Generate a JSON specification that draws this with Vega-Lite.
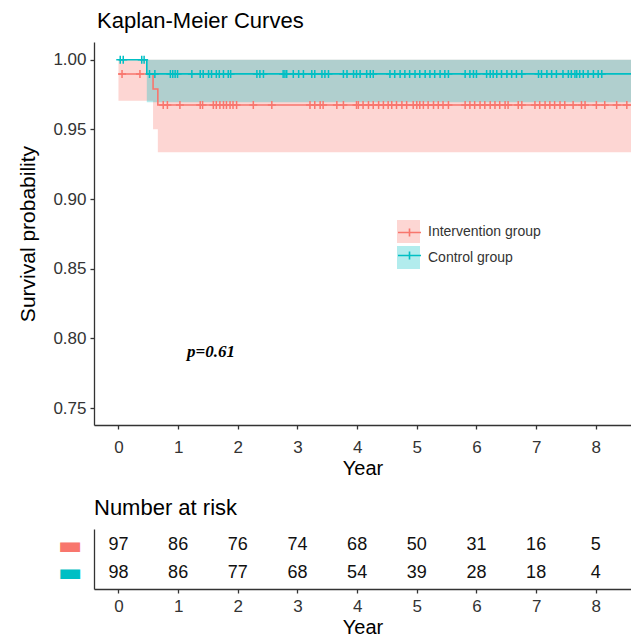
{
  "$schema": "https://vega.github.io/schema/vega-lite/v6.json",
  "padding": {"left": 17, "top": 10, "right": 0, "bottom": 0},
  "background": "white",
  "config": {
    "font": "Liberation Sans",
    "view": {"stroke": null},
    "axis": {
      "grid": false,
      "domainColor": "#333333",
      "tickColor": "#333333",
      "labelColor": "#333333",
      "titleColor": "#000000",
      "labelFontSize": 17,
      "titleFontSize": 20,
      "titleFontWeight": "normal",
      "domainWidth": 1.3,
      "tickWidth": 1.3,
      "tickSize": 4
    }
  },
  "datasets": {
    "km": [
      {"strata": "Intervention group", "t": 0, "s": 0.9897},
      {"strata": "Intervention group", "t": 0.58, "s": 0.979},
      {"strata": "Intervention group", "t": 0.66, "s": 0.9675},
      {"strata": "Intervention group", "t": 8.7, "s": 0.9675},
      {"strata": "Control group", "t": 0, "s": 1.0},
      {"strata": "Control group", "t": 0.475, "s": 0.9898},
      {"strata": "Control group", "t": 8.7, "s": 0.9898}
    ],
    "ci": [
      {"group": "Intervention group", "t": 0, "lo": 0.9706, "hi": 1.0},
      {"group": "Intervention group", "t": 0.58, "lo": 0.950, "hi": 1.0},
      {"group": "Intervention group", "t": 0.66, "lo": 0.9335, "hi": 1.0},
      {"group": "Intervention group", "t": 8.7, "lo": 0.9335, "hi": 1.0},
      {"group": "Control group", "t": 0.475, "lo": 0.9694, "hi": 1.0},
      {"group": "Control group", "t": 8.7, "lo": 0.9694, "hi": 1.0}
    ],
    "cens": [
      {"strata": "Control group", "t": 0.03, "s": 1.0},
      {"strata": "Control group", "t": 0.08, "s": 1.0},
      {"strata": "Control group", "t": 0.39, "s": 1.0},
      {"strata": "Control group", "t": 0.43, "s": 1.0},
      {"strata": "Control group", "t": 0.52, "s": 0.9898},
      {"strata": "Control group", "t": 0.61, "s": 0.9898},
      {"strata": "Control group", "t": 0.87, "s": 0.9898},
      {"strata": "Control group", "t": 0.91, "s": 0.9898},
      {"strata": "Control group", "t": 0.95, "s": 0.9898},
      {"strata": "Control group", "t": 0.99, "s": 0.9898},
      {"strata": "Control group", "t": 1.23, "s": 0.9898},
      {"strata": "Control group", "t": 1.37, "s": 0.9898},
      {"strata": "Control group", "t": 1.42, "s": 0.9898},
      {"strata": "Control group", "t": 1.51, "s": 0.9898},
      {"strata": "Control group", "t": 1.56, "s": 0.9898},
      {"strata": "Control group", "t": 1.64, "s": 0.9898},
      {"strata": "Control group", "t": 1.69, "s": 0.9898},
      {"strata": "Control group", "t": 1.76, "s": 0.9898},
      {"strata": "Control group", "t": 1.84, "s": 0.9898},
      {"strata": "Control group", "t": 1.88, "s": 0.9898},
      {"strata": "Control group", "t": 2.32, "s": 0.9898},
      {"strata": "Control group", "t": 2.37, "s": 0.9898},
      {"strata": "Control group", "t": 2.43, "s": 0.9898},
      {"strata": "Control group", "t": 2.76, "s": 0.9898},
      {"strata": "Control group", "t": 2.79, "s": 0.9898},
      {"strata": "Control group", "t": 2.82, "s": 0.9898},
      {"strata": "Control group", "t": 2.93, "s": 0.9898},
      {"strata": "Control group", "t": 3.02, "s": 0.9898},
      {"strata": "Control group", "t": 3.10, "s": 0.9898},
      {"strata": "Control group", "t": 3.24, "s": 0.9898},
      {"strata": "Control group", "t": 3.29, "s": 0.9898},
      {"strata": "Control group", "t": 3.41, "s": 0.9898},
      {"strata": "Control group", "t": 3.46, "s": 0.9898},
      {"strata": "Control group", "t": 3.52, "s": 0.9898},
      {"strata": "Control group", "t": 3.77, "s": 0.9898},
      {"strata": "Control group", "t": 3.83, "s": 0.9898},
      {"strata": "Control group", "t": 3.94, "s": 0.9898},
      {"strata": "Control group", "t": 3.99, "s": 0.9898},
      {"strata": "Control group", "t": 4.05, "s": 0.9898},
      {"strata": "Control group", "t": 4.16, "s": 0.9898},
      {"strata": "Control group", "t": 4.22, "s": 0.9898},
      {"strata": "Control group", "t": 4.27, "s": 0.9898},
      {"strata": "Control group", "t": 4.55, "s": 0.9898},
      {"strata": "Control group", "t": 4.63, "s": 0.9898},
      {"strata": "Control group", "t": 4.72, "s": 0.9898},
      {"strata": "Control group", "t": 4.80, "s": 0.9898},
      {"strata": "Control group", "t": 4.88, "s": 0.9898},
      {"strata": "Control group", "t": 4.97, "s": 0.9898},
      {"strata": "Control group", "t": 5.05, "s": 0.9898},
      {"strata": "Control group", "t": 5.14, "s": 0.9898},
      {"strata": "Control group", "t": 5.22, "s": 0.9898},
      {"strata": "Control group", "t": 5.30, "s": 0.9898},
      {"strata": "Control group", "t": 5.39, "s": 0.9898},
      {"strata": "Control group", "t": 5.47, "s": 0.9898},
      {"strata": "Control group", "t": 5.53, "s": 0.9898},
      {"strata": "Control group", "t": 5.81, "s": 0.9898},
      {"strata": "Control group", "t": 5.89, "s": 0.9898},
      {"strata": "Control group", "t": 5.95, "s": 0.9898},
      {"strata": "Control group", "t": 6.00, "s": 0.9898},
      {"strata": "Control group", "t": 6.17, "s": 0.9898},
      {"strata": "Control group", "t": 6.23, "s": 0.9898},
      {"strata": "Control group", "t": 6.28, "s": 0.9898},
      {"strata": "Control group", "t": 6.34, "s": 0.9898},
      {"strata": "Control group", "t": 6.42, "s": 0.9898},
      {"strata": "Control group", "t": 6.51, "s": 0.9898},
      {"strata": "Control group", "t": 6.59, "s": 0.9898},
      {"strata": "Control group", "t": 6.67, "s": 0.9898},
      {"strata": "Control group", "t": 6.76, "s": 0.9898},
      {"strata": "Control group", "t": 7.04, "s": 0.9898},
      {"strata": "Control group", "t": 7.09, "s": 0.9898},
      {"strata": "Control group", "t": 7.18, "s": 0.9898},
      {"strata": "Control group", "t": 7.26, "s": 0.9898},
      {"strata": "Control group", "t": 7.34, "s": 0.9898},
      {"strata": "Control group", "t": 7.45, "s": 0.9898},
      {"strata": "Control group", "t": 7.54, "s": 0.9898},
      {"strata": "Control group", "t": 7.59, "s": 0.9898},
      {"strata": "Control group", "t": 7.65, "s": 0.9898},
      {"strata": "Control group", "t": 7.68, "s": 0.9898},
      {"strata": "Control group", "t": 7.73, "s": 0.9898},
      {"strata": "Control group", "t": 7.79, "s": 0.9898},
      {"strata": "Control group", "t": 7.87, "s": 0.9898},
      {"strata": "Control group", "t": 7.96, "s": 0.9898},
      {"strata": "Control group", "t": 8.04, "s": 0.9898},
      {"strata": "Control group", "t": 8.10, "s": 0.9898},
      {"strata": "Intervention group", "t": 0.06, "s": 0.9897},
      {"strata": "Intervention group", "t": 0.36, "s": 0.9897},
      {"strata": "Intervention group", "t": 0.75, "s": 0.9675},
      {"strata": "Intervention group", "t": 0.82, "s": 0.9675},
      {"strata": "Intervention group", "t": 1.03, "s": 0.9675},
      {"strata": "Intervention group", "t": 1.37, "s": 0.9675},
      {"strata": "Intervention group", "t": 1.41, "s": 0.9675},
      {"strata": "Intervention group", "t": 1.59, "s": 0.9675},
      {"strata": "Intervention group", "t": 1.64, "s": 0.9675},
      {"strata": "Intervention group", "t": 1.70, "s": 0.9675},
      {"strata": "Intervention group", "t": 1.76, "s": 0.9675},
      {"strata": "Intervention group", "t": 1.81, "s": 0.9675},
      {"strata": "Intervention group", "t": 1.87, "s": 0.9675},
      {"strata": "Intervention group", "t": 1.92, "s": 0.9675},
      {"strata": "Intervention group", "t": 1.98, "s": 0.9675},
      {"strata": "Intervention group", "t": 2.26, "s": 0.9675},
      {"strata": "Intervention group", "t": 2.57, "s": 0.9675},
      {"strata": "Intervention group", "t": 3.21, "s": 0.9675},
      {"strata": "Intervention group", "t": 3.29, "s": 0.9675},
      {"strata": "Intervention group", "t": 3.38, "s": 0.9675},
      {"strata": "Intervention group", "t": 3.43, "s": 0.9675},
      {"strata": "Intervention group", "t": 3.66, "s": 0.9675},
      {"strata": "Intervention group", "t": 3.77, "s": 0.9675},
      {"strata": "Intervention group", "t": 3.99, "s": 0.9675},
      {"strata": "Intervention group", "t": 4.02, "s": 0.9675},
      {"strata": "Intervention group", "t": 4.10, "s": 0.9675},
      {"strata": "Intervention group", "t": 4.19, "s": 0.9675},
      {"strata": "Intervention group", "t": 4.27, "s": 0.9675},
      {"strata": "Intervention group", "t": 4.36, "s": 0.9675},
      {"strata": "Intervention group", "t": 4.44, "s": 0.9675},
      {"strata": "Intervention group", "t": 4.52, "s": 0.9675},
      {"strata": "Intervention group", "t": 4.58, "s": 0.9675},
      {"strata": "Intervention group", "t": 4.66, "s": 0.9675},
      {"strata": "Intervention group", "t": 4.75, "s": 0.9675},
      {"strata": "Intervention group", "t": 4.83, "s": 0.9675},
      {"strata": "Intervention group", "t": 4.94, "s": 0.9675},
      {"strata": "Intervention group", "t": 5.00, "s": 0.9675},
      {"strata": "Intervention group", "t": 5.05, "s": 0.9675},
      {"strata": "Intervention group", "t": 5.11, "s": 0.9675},
      {"strata": "Intervention group", "t": 5.19, "s": 0.9675},
      {"strata": "Intervention group", "t": 5.28, "s": 0.9675},
      {"strata": "Intervention group", "t": 5.36, "s": 0.9675},
      {"strata": "Intervention group", "t": 5.44, "s": 0.9675},
      {"strata": "Intervention group", "t": 5.53, "s": 0.9675},
      {"strata": "Intervention group", "t": 5.81, "s": 0.9675},
      {"strata": "Intervention group", "t": 5.89, "s": 0.9675},
      {"strata": "Intervention group", "t": 5.97, "s": 0.9675},
      {"strata": "Intervention group", "t": 6.06, "s": 0.9675},
      {"strata": "Intervention group", "t": 6.14, "s": 0.9675},
      {"strata": "Intervention group", "t": 6.23, "s": 0.9675},
      {"strata": "Intervention group", "t": 6.31, "s": 0.9675},
      {"strata": "Intervention group", "t": 6.39, "s": 0.9675},
      {"strata": "Intervention group", "t": 6.48, "s": 0.9675},
      {"strata": "Intervention group", "t": 6.53, "s": 0.9675},
      {"strata": "Intervention group", "t": 6.70, "s": 0.9675},
      {"strata": "Intervention group", "t": 6.76, "s": 0.9675},
      {"strata": "Intervention group", "t": 6.98, "s": 0.9675},
      {"strata": "Intervention group", "t": 7.06, "s": 0.9675},
      {"strata": "Intervention group", "t": 7.15, "s": 0.9675},
      {"strata": "Intervention group", "t": 7.23, "s": 0.9675},
      {"strata": "Intervention group", "t": 7.31, "s": 0.9675},
      {"strata": "Intervention group", "t": 7.40, "s": 0.9675},
      {"strata": "Intervention group", "t": 7.48, "s": 0.9675},
      {"strata": "Intervention group", "t": 7.62, "s": 0.9675},
      {"strata": "Intervention group", "t": 7.76, "s": 0.9675},
      {"strata": "Intervention group", "t": 7.82, "s": 0.9675},
      {"strata": "Intervention group", "t": 8.01, "s": 0.9675},
      {"strata": "Intervention group", "t": 8.15, "s": 0.9675},
      {"strata": "Intervention group", "t": 8.35, "s": 0.9675},
      {"strata": "Intervention group", "t": 8.52, "s": 0.9675}
    ],
    "risk": [
      {"group": "Intervention group", "t": 0, "n": 97},
      {"group": "Intervention group", "t": 1, "n": 86},
      {"group": "Intervention group", "t": 2, "n": 76},
      {"group": "Intervention group", "t": 3, "n": 74},
      {"group": "Intervention group", "t": 4, "n": 68},
      {"group": "Intervention group", "t": 5, "n": 50},
      {"group": "Intervention group", "t": 6, "n": 31},
      {"group": "Intervention group", "t": 7, "n": 16},
      {"group": "Intervention group", "t": 8, "n": 5},
      {"group": "Control group", "t": 0, "n": 98},
      {"group": "Control group", "t": 1, "n": 86},
      {"group": "Control group", "t": 2, "n": 77},
      {"group": "Control group", "t": 3, "n": 68},
      {"group": "Control group", "t": 4, "n": 54},
      {"group": "Control group", "t": 5, "n": 39},
      {"group": "Control group", "t": 6, "n": 28},
      {"group": "Control group", "t": 7, "n": 18},
      {"group": "Control group", "t": 8, "n": 4}
    ],
    "pval": [{"t": 1.55, "s": 0.7902, "label": "p=0.61"}]
  },
  "spacing": 19,
  "vconcat": [
    {
      "width": 537,
      "height": 383,
      "title": {"text": "Kaplan-Meier Curves", "anchor": "start", "frame": "group", "fontSize": 22, "fontWeight": "normal", "color": "#000000", "offset": 9, "dx": 3},
      "resolve": {"legend": {"fill": "independent", "stroke": "independent"}},
      "layer": [
        {
          "data": {"name": "ci"},
          "transform": [{"filter": "datum.group == 'Intervention group'"}],
          "mark": {"type": "area", "interpolate": "step-after", "opacity": 0.3, "clip": true},
          "encoding": {
            "x": {"field": "t", "type": "quantitative", "scale": {"domain": [-0.41, 8.59], "nice": false, "zero": false},
                  "axis": {"values": [0, 1, 2, 3, 4, 5, 6, 7, 8], "format": "d", "title": "Year", "labelPadding": 10, "titlePadding": 3}},
            "y": {"field": "lo", "type": "quantitative", "scale": {"domain": [0.7378, 1.0127], "nice": false, "zero": false},
                  "axis": {"values": [0.75, 0.8, 0.85, 0.9, 0.95, 1.0], "format": ".2f", "title": "Survival probability", "labelPadding": 4, "titlePadding": 14, "titleFontSize": 21}},
            "y2": {"field": "hi"},
            "fill": {"field": "group", "type": "nominal",
                     "scale": {"domain": ["Intervention group", "Control group"], "range": ["#F8766D", "#00BFC4"]},
                     "legend": {"orient": "none", "legendX": 303, "legendY": 178, "title": null, "symbolType": "square", "symbolSize": 529, "symbolOpacity": 0.3, "symbolStrokeWidth": 0, "labelFontSize": 14, "labelColor": "#333333", "labelFont": "Liberation Sans", "rowPadding": 3, "padding": 0, "labelOffset": 8}}
          }
        },
        {
          "data": {"name": "ci"},
          "transform": [{"filter": "datum.group == 'Control group'"}],
          "mark": {"type": "area", "interpolate": "step-after", "opacity": 0.3, "clip": true},
          "encoding": {
            "x": {"field": "t", "type": "quantitative"},
            "y": {"field": "lo", "type": "quantitative"},
            "y2": {"field": "hi"},
            "fill": {"field": "group", "type": "nominal", "legend": null}
          }
        },
        {
          "data": {"name": "km"},
          "mark": {"type": "line", "interpolate": "step-after", "strokeWidth": 1.6, "clip": true},
          "encoding": {
            "x": {"field": "t", "type": "quantitative"},
            "y": {"field": "s", "type": "quantitative"},
            "stroke": {"field": "strata", "type": "nominal",
                       "scale": {"domain": ["Intervention group", "Control group"], "range": ["#F8766D", "#00BFC4"]},
                       "legend": {"orient": "none", "legendX": 303, "legendY": 178, "title": null, "symbolType": "M-1,0H1M0,-0.35V0.35", "symbolSize": 529, "symbolStrokeWidth": 1.6, "symbolFillColor": "transparent", "labelFontSize": 14, "labelFont": "Liberation Sans", "labelExpr": "''", "rowPadding": 3, "padding": 0, "labelOffset": 8}}
          }
        },
        {
          "data": {"name": "cens"},
          "mark": {"type": "point", "shape": "M-1,0H1M0,-1V1", "filled": false, "size": 64, "strokeWidth": 1.5, "opacity": 1, "clip": true},
          "encoding": {
            "x": {"field": "t", "type": "quantitative"},
            "y": {"field": "s", "type": "quantitative"},
            "stroke": {"field": "strata", "type": "nominal", "legend": null}
          }
        },
        {
          "data": {"name": "pval"},
          "mark": {"type": "text", "font": "Liberation Serif", "fontStyle": "italic", "fontWeight": "bold", "fontSize": 17, "color": "#000000"},
          "encoding": {
            "x": {"field": "t", "type": "quantitative"},
            "y": {"field": "s", "type": "quantitative"},
            "text": {"field": "label"}
          }
        }
      ]
    },
    {
      "width": 537,
      "height": 60,
      "title": {"text": "Number at risk", "anchor": "start", "frame": "group", "fontSize": 22, "fontWeight": "normal", "color": "#000000", "offset": 9},
      "data": {"name": "risk"},
      "mark": {"type": "text", "fontSize": 18, "color": "#111111"},
      "encoding": {
        "x": {"field": "t", "type": "quantitative", "scale": {"domain": [-0.41, 8.59], "nice": false, "zero": false},
              "axis": {"values": [0, 1, 2, 3, 4, 5, 6, 7, 8], "format": "d", "title": "Year", "labelPadding": 5, "titlePadding": 3}},
        "y": {"field": "group", "type": "nominal",
              "scale": {"type": "point", "domain": ["Intervention group", "Control group"], "padding": 0.6},
              "axis": {"title": null, "ticks": false, "labelExpr": "'▬'", "labelFont": "DejaVu Sans", "labelFontSize": 26, "labelPadding": 12,
                       "labelColor": {"condition": {"test": "datum.value == 'Intervention group'", "value": "#F8766D"}, "value": "#00BFC4"}}},
        "text": {"field": "n", "type": "quantitative"}
      }
    }
  ]
}
